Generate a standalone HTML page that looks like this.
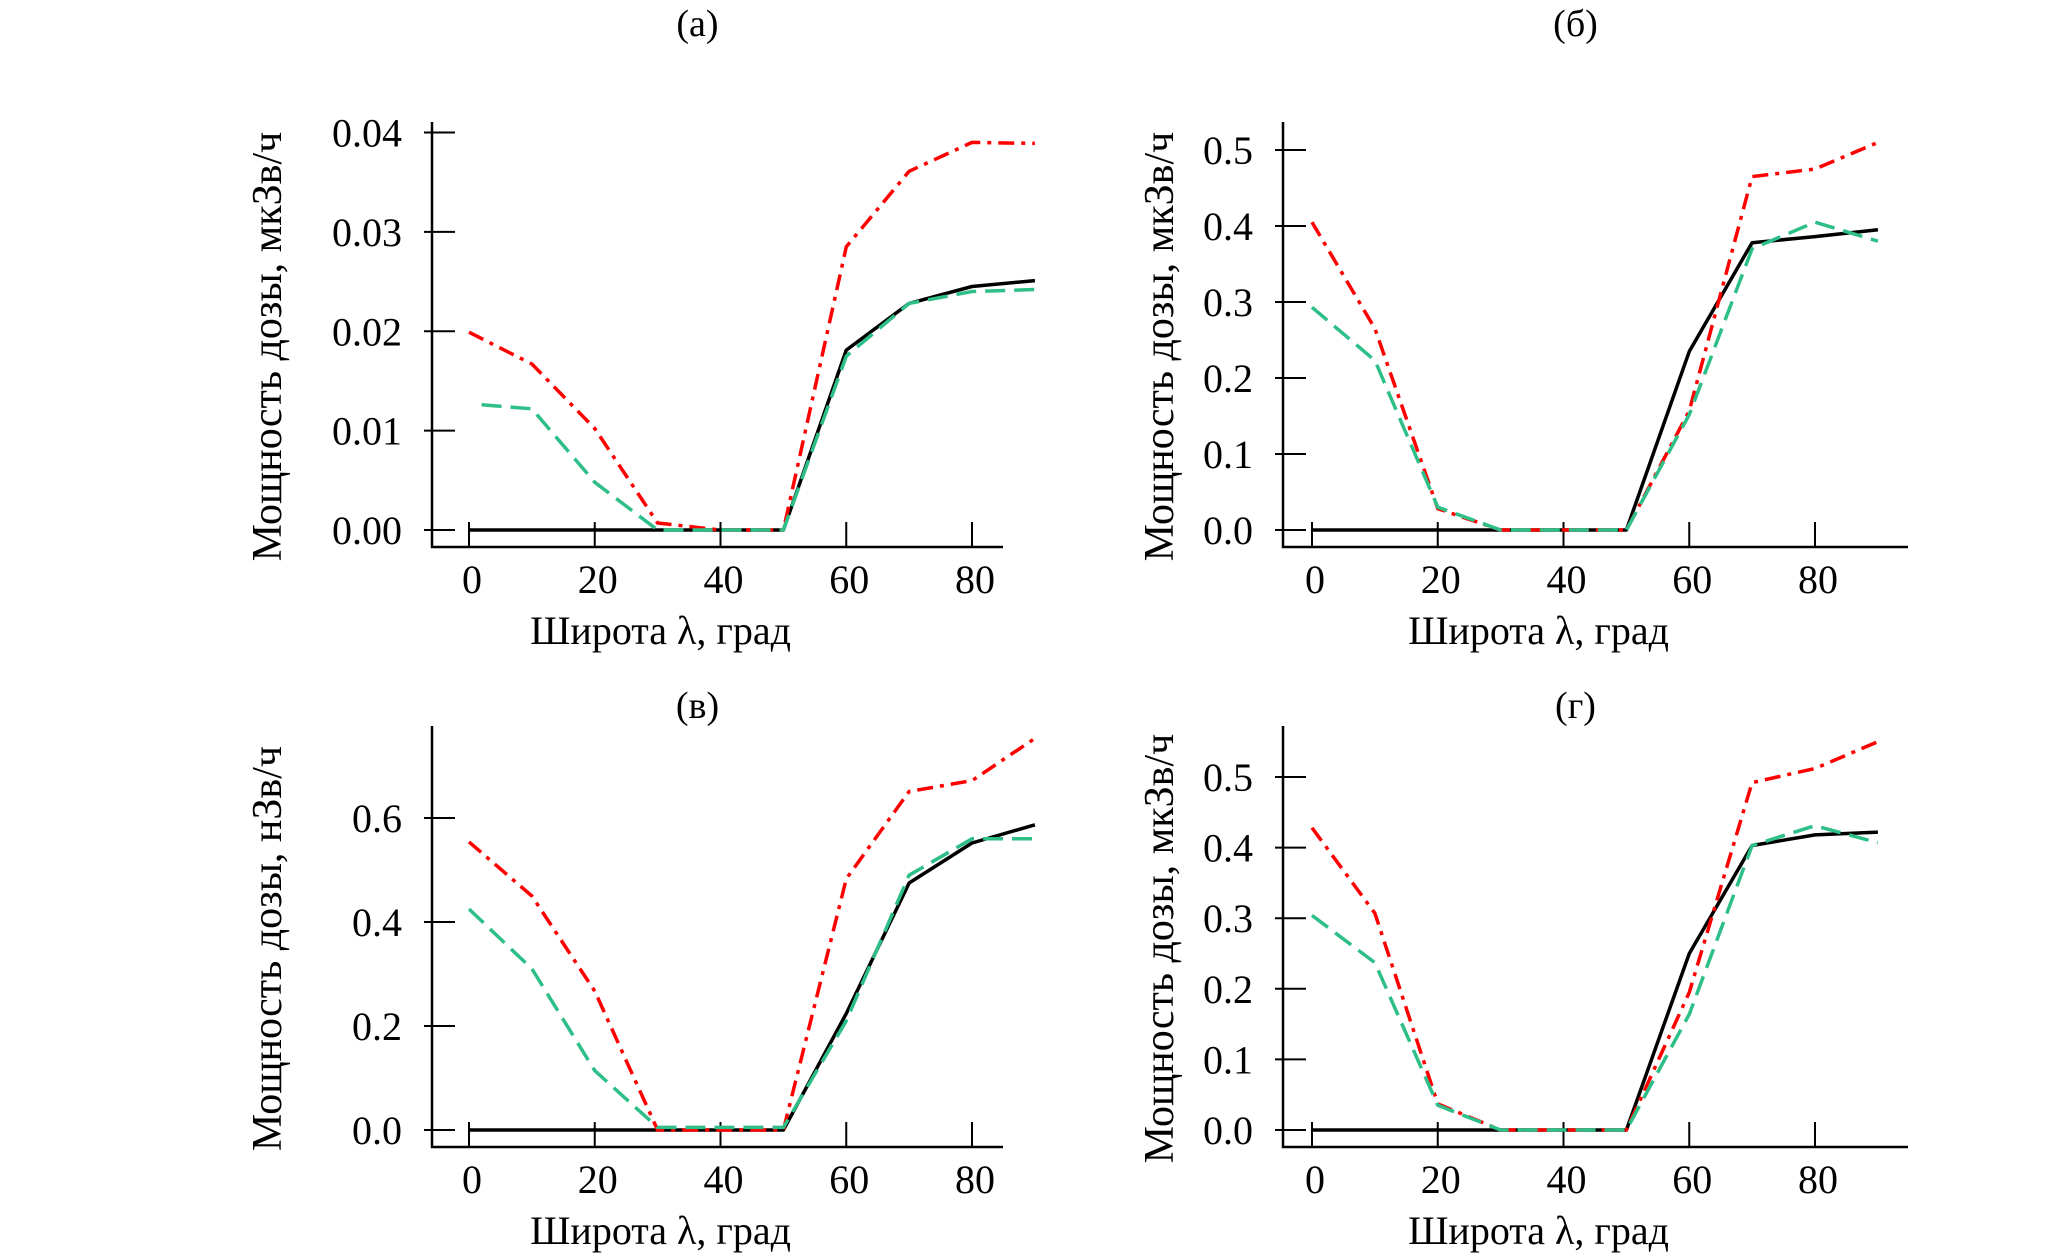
<!DOCTYPE html>
<html><head><meta charset="utf-8"><style>
html,body{margin:0;padding:0;background:#fff}
svg{display:block}
text{font-family:"Liberation Serif",serif;fill:#000}
</style></head><body>
<svg id="chart" width="2067" height="1253" viewBox="0 0 2067 1253"></svg>
<script>
const xCats = [0,10,20,30,40,50,60,70,80,90];
const xTicks = [0,20,40,60,80];
// panel a
const aBlack = [0,0,0,0,0,0,0.0181,0.0228,0.0245,0.0251];
const aRed   = [0.0199,0.0167,0.0102,0.0007,0,0,0.0285,0.0361,0.0390,0.0389];
const aGreenX = [2,10,20,30,40,50,60,70,80,90];
const aGreen = [0.0126,0.0122,0.0048,0,0,0,0.0175,0.0228,0.0240,0.0242];
const aYTicks = ["0.00","0.01","0.02","0.03","0.04"];
const aYVals = [0,0.01,0.02,0.03,0.04];
// panel b
const bBlack = [0,0,0,0,0,0,0.235,0.378,0.386,0.395];
const bRed   = [0.405,0.265,0.028,0,0,0,0.157,0.465,0.475,0.51];
const bGreen = [0.293,0.223,0.03,0,0,0,0.152,0.37,0.405,0.38];
const bYTicks = ["0.0","0.1","0.2","0.3","0.4","0.5"];
const bYVals = [0,0.1,0.2,0.3,0.4,0.5];
// panel c
const cBlack = [0,0,0,0,0,0,0.224,0.475,0.552,0.587];
const cRed   = [0.554,0.45,0.267,0,0,0,0.483,0.651,0.672,0.753];
const cGreen = [0.425,0.31,0.114,0.005,0.005,0.005,0.21,0.49,0.56,0.56];
const cYTicks = ["0.0","0.2","0.4","0.6"];
const cYVals = [0,0.2,0.4,0.6];
// panel d
const dBlack = [0,0,0,0,0,0,0.25,0.403,0.418,0.422];
const dRed   = [0.428,0.307,0.037,0,0,0,0.195,0.492,0.512,0.55];
const dGreen = [0.304,0.237,0.035,0,0,0,0.164,0.403,0.431,0.407];
const dYTicks = ["0.0","0.1","0.2","0.3","0.4","0.5"];
const dYVals = [0,0.1,0.2,0.3,0.4,0.5];

const NS="http://www.w3.org/2000/svg";
const svg=document.getElementById('chart');
function mk(tag,attrs,parent){const e=document.createElementNS(NS,tag);for(const k in attrs)e.setAttribute(k,attrs[k]);(parent||svg).appendChild(e);return e;}

const panels=[
 {key:'a',title:'(а)',titleY:36,ytitle:'Мощность дозы, мкЗв/ч',L:432,R:1003,T:122,B:547,x0:469,x80:972,y0:530,yRefVal:0.04,yRef:132.5,black:aBlack,red:aRed,green:aGreen,greenX:aGreenX,yt:aYTicks,yv:aYVals,ytx:267},
 {key:'b',title:'(б)',titleY:36,ytitle:'Мощность дозы, мкЗв/ч',L:1283,R:1908,T:122,B:547,x0:1312,x80:1815,y0:530,yRefVal:0.5,yRef:150,black:bBlack,red:bRed,green:bGreen,greenX:xCats,yt:bYTicks,yv:bYVals,ytx:1159},
 {key:'c',title:'(в)',titleY:718,ytitle:'Мощность дозы, нЗв/ч',L:432,R:1003,T:726,B:1147,x0:469,x80:972,y0:1130,yRefVal:0.6,yRef:818,black:cBlack,red:cRed,green:cGreen,greenX:xCats,yt:cYTicks,yv:cYVals,ytx:267},
 {key:'d',title:'(г)',titleY:718,ytitle:'Мощность дозы, мкЗв/ч',L:1283,R:1908,T:726,B:1147,x0:1312,x80:1815,y0:1130,yRefVal:0.5,yRef:777,black:dBlack,red:dRed,green:dGreen,greenX:xCats,yt:dYTicks,yv:dYVals,ytx:1159}
];

panels.forEach(p=>{
  const g=mk('g',{});
  
  
  const xs=v=>p.x0+(v/80)*(p.x80-p.x0);
  const ys=v=>p.y0-(v/p.yRefVal)*(p.y0-p.yRef);
  const t=mk('text',{x:(p.L+p.R)/2-20,y:p.titleY,'font-size':38,'text-anchor':'middle'},g);
  t.textContent=p.title;
  
  
  const ax=mk('path',{d:`M${p.L},${p.T} L${p.L},${p.B} L${p.R},${p.B}`,stroke:'#000','stroke-width':2.5,fill:'none'},g);
  
  
  p.yv.forEach((v,i)=>{
    const y=ys(v);
    const tk=mk('line',{x1:p.L-8,x2:p.L+23,y1:y,y2:y,stroke:'#000','stroke-width':2},g);
    
    
    const tl=mk('text',{x:p.L-30,y:y+14,'font-size':40,'text-anchor':'end'},g);
    tl.textContent=p.yt[i];
    
    
  });
  xTicks.forEach(v=>{
    const x=xs(v);
    const tk=mk('line',{x1:x,x2:x,y1:p.B,y2:p.B-25,stroke:'#000','stroke-width':2},g);
    
    
    const tl=mk('text',{x:x+3,y:p.B+46,'font-size':40,'text-anchor':'middle'},g);
    tl.textContent=String(v);
    
    
  });
  const xt=mk('text',{x:(p.L+p.R)/2-57,y:p.B+97,'font-size':40,'text-anchor':'middle'},g);
  xt.textContent='Широта λ, град';
  
  
  const ycy=(p.T+p.B)/2+12;
  const yt=mk('text',{x:p.ytx,y:ycy,'font-size':42,'text-anchor':'middle',transform:`rotate(-90 ${p.ytx} ${ycy}) translate(0 14)`},g);
  yt.textContent=p.ytitle;
  
  
  const line=(xsArr,vals,color,dash,name)=>{
    const d=vals.map((v,i)=>(i?'L':'M')+xs(xsArr[i]).toFixed(1)+','+ys(v).toFixed(1)).join(' ');
    const attrs={d:d,stroke:color,'stroke-width':3.5,fill:'none','stroke-linejoin':'round'};
    if(dash)attrs['stroke-dasharray']=dash;
    const e=mk('path',attrs,g);
    
    
  };
  line(xCats,p.black,'#000',null,'series-black-solid');
  line(xCats,p.red,'#ff0000','16 7 4 7','series-red-dashdot');
  line(p.greenX,p.green,'#2ebf88','20 9','series-green-dashed');
});
</script>
</body></html>
